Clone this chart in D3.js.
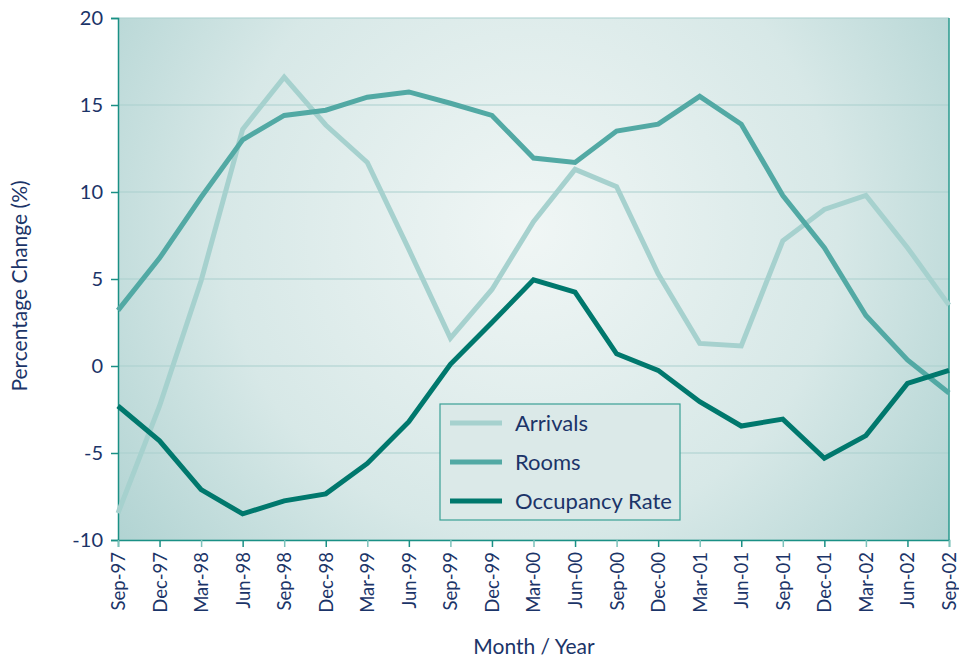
<!DOCTYPE html>
<html lang="en">
<head>
    <meta charset="UTF-8">
    <title>Percentage Change</title>
    <script type="text/javascript" src="https://d3js.org/d3.v7.min.js"></script>
    <style>
        body{
            margin: 0;
            background-color: white;
        }
        text{
            font-family: Lato, "Open Sans", sans-serif;
            fill: #1b3468;
        }
    </style>
</head>
<body>
    <script type="text/javascript">
        var width = 959;
        var height = 659;

        // data
        var months = ["Sep-97","Dec-97","Mar-98","Jun-98","Sep-98","Dec-98","Mar-99","Jun-99","Sep-99","Dec-99",
                      "Mar-00","Jun-00","Sep-00","Dec-00","Mar-01","Jun-01","Sep-01","Dec-01","Mar-02","Jun-02","Sep-02"];
        var arrivals = [-8.45,-2.3,4.9,13.6,16.6,13.85,11.7,6.7,1.6,4.4,8.3,11.3,10.3,5.3,1.3,1.15,7.2,9.0,9.8,6.8,3.5];
        var rooms = [3.2,6.2,9.7,13.0,14.4,14.7,15.45,15.75,15.1,14.4,11.95,11.7,13.5,13.9,15.5,13.9,9.8,6.8,2.9,0.35,-1.55];
        var occupancy = [-2.3,-4.3,-7.1,-8.5,-7.75,-7.35,-5.6,-3.2,0.1,2.5,4.95,4.25,0.7,-0.25,-2.05,-3.45,-3.05,-5.3,-4.0,-1.0,-0.25];
        var yTicks = [-10,-5,0,5,10,15,20];

        var series = [
            {name: "Arrivals", values: arrivals, color: "#a6d1ce"},
            {name: "Rooms", values: rooms, color: "#52a9a4"},
            {name: "Occupancy Rate", values: occupancy, color: "#00786d"}
        ];

        var margin = {left: 118, right: 10, top: 18, bottom: 119};
        var w = width - margin.left - margin.right;
        var h = height - margin.top - margin.bottom;

        var svg = d3.select("body").append("svg")
            .attr("width", width)
            .attr("height", height);

        // 背景渐变
        var grad = svg.append("defs").append("radialGradient")
            .attr("id", "bg")
            .attr("gradientUnits", "userSpaceOnUse")
            .attr("cx", 530).attr("cy", 230).attr("r", 560);
        grad.append("stop").attr("offset", "0%").attr("stop-color", "#f0f6f5");
        grad.append("stop").attr("offset", "55%").attr("stop-color", "#d7e8e7");
        grad.append("stop").attr("offset", "100%").attr("stop-color", "#a9cfce");

        var x = d3.scalePoint().domain(months).range([0, w]);
        var y = d3.scaleLinear().domain([-10, 20]).range([h, 0]);

        var g = svg.append("g").attr("transform", "translate(" + margin.left + "," + margin.top + ")");

        g.append("rect")
            .attr("width", w).attr("height", h)
            .attr("fill", "url(#bg)")
            .attr("transform", "translate(" + (-margin.left) + "," + (-margin.top) + ")")
            .attr("x", margin.left).attr("y", margin.top);

        // gridlines
        g.selectAll(".grid").data(yTicks).enter().append("line")
            .attr("x1", 0).attr("x2", w)
            .attr("y1", d => y(d)).attr("y2", d => y(d))
            .attr("stroke", "#a9d0cd").attr("stroke-width", 1.2);

        // right border
        g.append("line").attr("x1", w).attr("x2", w).attr("y1", 0).attr("y2", h)
            .attr("stroke", "#2a9a8e").attr("stroke-width", 1.5);

        // y axis
        var yAxis = g.append("g").call(d3.axisLeft(y).tickValues(yTicks).tickSize(7).tickPadding(8)
            .tickFormat(d => String(d)));
        yAxis.select(".domain").attr("stroke", "#1a9085").attr("stroke-width", 1.5);
        yAxis.selectAll(".tick line").attr("stroke", "#1a9085").attr("stroke-width", 1.5);
        yAxis.selectAll(".tick text").attr("font-size", 20).style("font-family", "Lato, sans-serif").attr("fill", "#1b3468");

        // x axis
        var xAxis = g.append("g").attr("transform", "translate(0," + h + ")")
            .call(d3.axisBottom(x).tickSize(7).tickPadding(6));
        xAxis.select(".domain").attr("stroke", "#1a9085").attr("stroke-width", 1.5);
        xAxis.selectAll(".tick line").attr("stroke", (d, i) => i % 2 ? "#1a9085" : "#7cc2bb").attr("stroke-width", 1.5);
        xAxis.selectAll(".tick text")
            .attr("font-size", 18.5).style("font-family", "Lato, sans-serif").attr("fill", "#1b3468")
            .attr("transform", "rotate(-90)")
            .attr("text-anchor", "end")
            .attr("dx", "-12").attr("dy", "0.35em").attr("x", 0).attr("y", 0);

        // lines
        var line = d3.line()
            .x((d, i) => x(months[i]))
            .y(d => y(d));

        g.selectAll(".series").data(series).enter().append("path")
            .attr("d", d => line(d.values))
            .attr("fill", "none")
            .attr("stroke", d => d.color)
            .attr("stroke-width", 5)
            .attr("stroke-linejoin", "miter");

        // legend
        var lg = svg.append("g").attr("transform", "translate(440,404)");
        lg.append("rect").attr("width", 240).attr("height", 116)
            .attr("fill", "#dbe9e8").attr("stroke", "#3aa095").attr("stroke-width", 1.2);
        series.forEach(function(s, i){
            var yy = 19 + i * 39;
            lg.append("line").attr("x1", 10).attr("x2", 62).attr("y1", yy).attr("y2", yy)
                .attr("stroke", s.color).attr("stroke-width", 5);
            lg.append("text").attr("x", 75).attr("y", yy).attr("dy", "0.35em")
                .attr("font-size", 22).text(s.name);
        });

        // titles
        svg.append("text")
            .attr("transform", "translate(27," + (margin.top + h / 2 + 7) + ") rotate(-90)")
            .attr("text-anchor", "middle").attr("font-size", 21)
            .text("Percentage Change (%)");
        svg.append("text")
            .attr("x", 534).attr("y", 654)
            .attr("text-anchor", "middle").attr("font-size", 21)
            .text("Month / Year");
    </script>
</body>
</html>
